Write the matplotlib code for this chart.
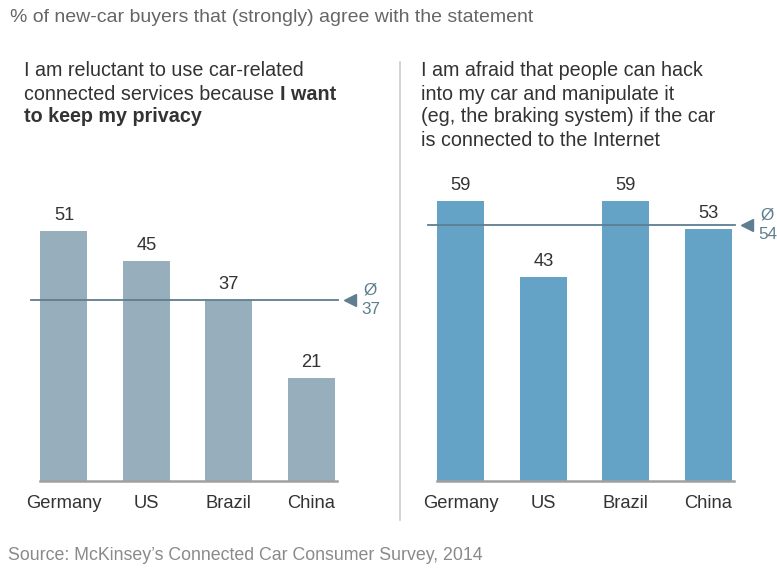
import matplotlib
matplotlib.use("Agg")
import matplotlib.pyplot as plt

plt.rcParams['font.family'] = ['Liberation Sans', 'DejaVu Sans']

countries = ["Germany", "US", "Brazil", "China"]
privacy_values = [51, 45, 37, 21]
privacy_avg = 37
hacking_values = [59, 43, 59, 53]
hacking_avg = 54

W, H = 777, 568
fig = plt.figure(figsize=(W / 100, H / 100), dpi=100)

DARK = "#333333"
AVG = "#5f7e90"
LEFT_C = "#97afbc"
RIGHT_C = "#64a3c5"

def px(x0, y0, w, h):
    return [x0 / W, 1 - (y0 + h) / H, w / W, h / H]

def panel(rect, values, avg, color, ymax):
    ax = fig.add_axes(rect)
    xs = range(len(values))
    ax.bar(xs, values, width=0.57, color=color, zorder=2)
    ax.set_xlim(-0.4, 3.35)
    ax.set_ylim(0, ymax)
    for s in ax.spines.values():
        s.set_visible(False)
    ax.set_yticks([])
    ax.set_xticks(list(xs))
    ax.set_xticklabels(countries, fontsize=13.2, color=DARK)
    ax.tick_params(axis='x', length=0, pad=10)
    ax.plot([-0.29, 3.31], [0, 0], color="#a0a0a0", lw=1.8, zorder=3, clip_on=False)
    for x, v in zip(xs, values):
        ax.annotate(str(v), (x, v), xytext=(0, 5), textcoords='offset points',
                    ha='center', va='bottom', fontsize=13.2, color=DARK)
    ax.plot([-0.4, 3.32], [avg, avg], color=AVG, lw=1.3, zorder=4, clip_on=False)
    ax.plot([3.47], [avg], marker='<', color=AVG, markersize=8, clip_on=False, zorder=4)
    ax.annotate("Ø\n" + str(avg), (3.47, avg), xytext=(8, 0), textcoords='offset points',
                ha='left', va='center', fontsize=12.3, color=AVG, linespacing=1.35,
                multialignment='center', annotation_clip=False)
    return ax

axL = panel(px(31, 481 - 294, 309, 294), privacy_values, privacy_avg, LEFT_C, 60)
axR = panel(px(428, 481 - 294.5, 309, 294.5), hacking_values, hacking_avg, RIGHT_C, 62)

# separator
fig.add_artist(plt.Line2D([400 / W, 400 / W], [1 - 62 / H, 1 - 520 / H],
                          color="#cccccc", lw=1.2))

# header
fig.text(10 / W, 1 - 18 / H, "% of new-car buyers that (strongly) agree with the statement",
         fontsize=14, color="#666666", va='center', ha='left')

FS = 14.2
fig.text(24 / W, 1 - 71 / H, "I am reluctant to use car-related", fontsize=FS,
         color=DARK, va='center', ha='left')
t2 = fig.text(24 / W, 1 - 94 / H, "connected services because ", fontsize=FS,
              color=DARK, va='center', ha='left')
fig.add_artist(matplotlib.text.Annotation(
    "I want", xy=(1, 0), xycoords=t2, xytext=(0, 0), textcoords='offset points',
    fontsize=FS, color=DARK, fontweight='bold', va='bottom', ha='left'))
fig.text(24 / W, 1 - 117 / H, "to keep my privacy", fontsize=FS, color=DARK,
         fontweight='bold', va='center', ha='left')

right_lines = ["I am afraid that people can hack", "into my car and manipulate it",
               "(eg, the braking system) if the car", "is connected to the Internet"]
for i, line in enumerate(right_lines):
    fig.text(421 / W, 1 - (71 + 23 * i) / H, line, fontsize=FS, color=DARK,
             va='center', ha='left')

fig.text(8 / W, 1 - 556 / H, "Source: McKinsey\u2019s Connected Car Consumer Survey, 2014",
         fontsize=12.8, color="#8a8a8a", va='center', ha='left')

fig.savefig("out.png", dpi=100)
